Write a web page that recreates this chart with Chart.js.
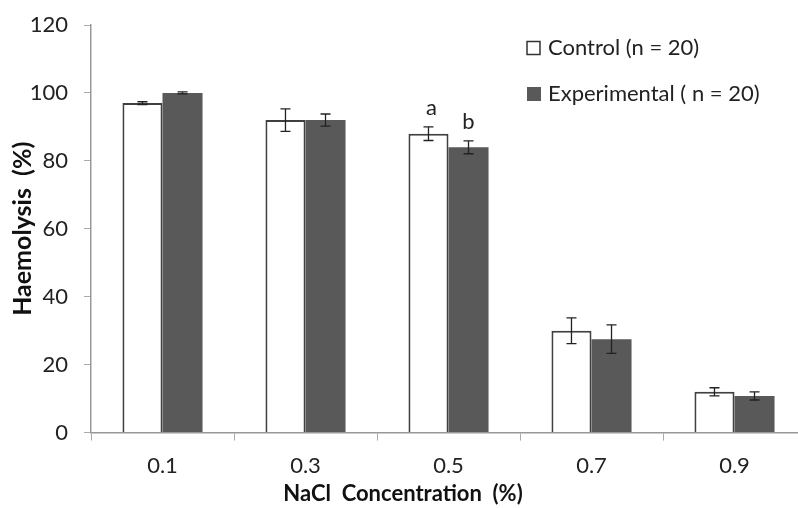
<!DOCTYPE html>
<html>
<head>
<meta charset="utf-8">
<script src="https://cdn.jsdelivr.net/npm/chart.js@4/dist/chart.umd.min.js"></script>
<style>
  html, body { margin: 0; padding: 0; background: #fff; overflow: hidden; }
  #wrap { width: 806px; height: 508px; }
</style>
</head>
<body>
<div id="wrap"><canvas id="chart" width="806" height="508"></canvas></div>
<script>
const concentrations = ["0.1", "0.3", "0.5", "0.7", "0.9"];
const controlValues = [97, 92, 88, 30, 12];
const controlErrors = [0.4, 3.3, 2.0, 3.8, 1.2];
const experimentalValues = [100, 92, 84, 27.5, 10.8];
const experimentalErrors = [0.3, 1.8, 1.9, 4.2, 1.2];
// significance letters: [category index, dataset index, text]
const sigLetters = [[2, 0, "a"], [2, 1, "b"]];

const FONT = "Lato, 'Open Sans', sans-serif";

const errorBars = {
  id: "errorBars",
  afterDatasetsDraw(chart) {
    const ctx = chart.ctx, y = chart.scales.y;
    const errs = [controlErrors, experimentalErrors];
    ctx.save();
    ctx.strokeStyle = "#222";
    ctx.lineWidth = 1.3;
    chart.data.datasets.forEach((ds, di) => {
      chart.getDatasetMeta(di).data.forEach((bar, i) => {
        const v = ds.data[i], e = errs[di][i];
        const top = y.getPixelForValue(v + e), bot = y.getPixelForValue(v - e);
        ctx.beginPath();
        ctx.moveTo(bar.x, top); ctx.lineTo(bar.x, bot);
        ctx.moveTo(bar.x - 5, top); ctx.lineTo(bar.x + 5, top);
        ctx.moveTo(bar.x - 5, bot); ctx.lineTo(bar.x + 5, bot);
        ctx.stroke();
      });
    });
    // letters
    ctx.fillStyle = "#222";
    ctx.font = "22px " + FONT;
    ctx.textAlign = "center";
    ctx.textBaseline = "bottom";
    sigLetters.forEach(([i, di, t]) => {
      const bar = chart.getDatasetMeta(di).data[i];
      const v = chart.data.datasets[di].data[i] + errs[di][i];
      ctx.fillText(t, bar.x + (di === 0 ? 3 : 0), y.getPixelForValue(v) - 8);
    });
    // legend
    ctx.font = "22px " + FONT;
    ctx.textAlign = "left";
    ctx.textBaseline = "middle";
    const lx = 527, ly = [48, 94];
    chart.data.datasets.forEach((ds, di) => {
      if (di === 0) {
        ctx.fillStyle = "#fff";
        ctx.fillRect(lx, ly[di] - 6.5, 13, 13);
        ctx.strokeStyle = "#333";
        ctx.lineWidth = 1.5;
        ctx.strokeRect(lx, ly[di] - 6.5, 13, 13);
      } else {
        ctx.fillStyle = ds.backgroundColor;
        ctx.fillRect(lx, ly[di] - 7, 14, 14);
      }
      ctx.fillStyle = "#222";
      ctx.fillText(ds.label, lx + 21, ly[di]);
    });
    ctx.restore();
  }
};

new Chart("chart", {
  type: "bar",
  data: {
    labels: concentrations,
    datasets: [
      {
        label: "Control (n = 20)",
        data: controlValues,
        backgroundColor: "#ffffff",
        borderColor: "#404040",
        borderWidth: 2,
        categoryPercentage: 0.56,
        barPercentage: 1.0,
      },
      {
        label: "Experimental ( n = 20)",
        data: experimentalValues,
        backgroundColor: "#595959",
        borderWidth: 0,
        categoryPercentage: 0.56,
        barPercentage: 1.0,
      },
    ],
  },
  options: {
    responsive: false,
    animation: false,
    layout: { padding: { left: 0, top: 25, right: 0, bottom: 0 } },
    plugins: {
      legend: { display: false },
      tooltip: { enabled: false },
      title: {
        display: true, position: "bottom", text: "NaCl  Concentration  (%)", color: "#111",
        font: { family: FONT, size: 22, weight: "bold" }, padding: { top: 4, bottom: 1 },
      },
    },
    scales: {
      x: {
        grid: { display: true, drawOnChartArea: false, drawTicks: true, tickLength: 8, color: "#aaa" },
        border: { color: "#999", width: 1.5 },
        ticks: { color: "#222", font: { family: FONT, size: 22 }, padding: 12 },
        afterFit(scale) { scale.height = 44; },
      },
      y: {
        min: 0, max: 120,
        grid: { display: true, drawOnChartArea: false, drawTicks: true, tickLength: 7, color: "#aaa" },
        border: { color: "#999", width: 1.5 },
        ticks: { stepSize: 20, color: "#222", font: { family: FONT, size: 22 }, padding: 16 },
        title: { display: true, text: "Haemolysis  (%)", color: "#111",
                 font: { family: FONT, size: 25, weight: "bold" }, padding: { top: 8, bottom: 0 } },
        afterFit(scale) { scale.width = 91; scale.paddingTop = 0; scale.paddingBottom = 0; },
      },
    },
  },
  plugins: [errorBars],
});
</script>
</body>
</html>
